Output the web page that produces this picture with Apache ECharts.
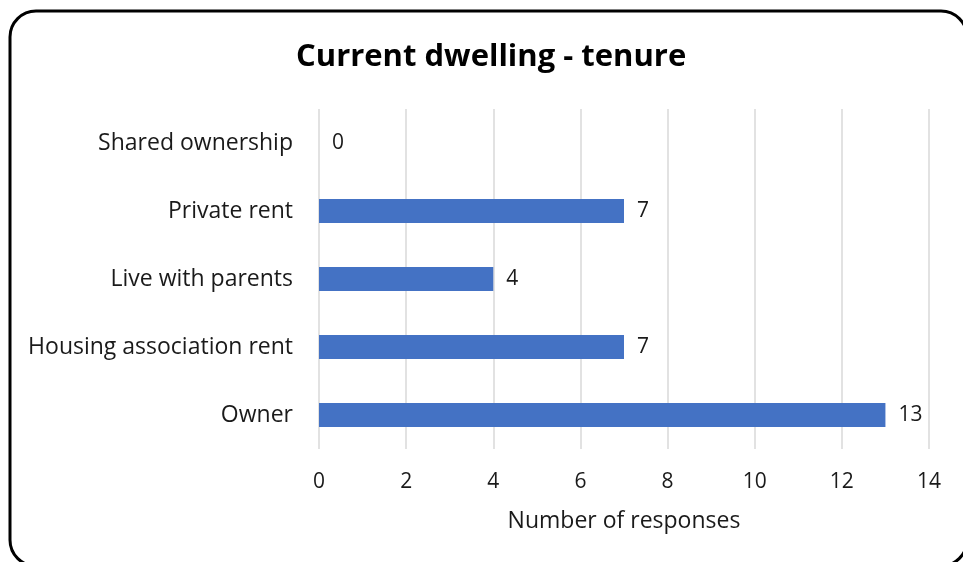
<!DOCTYPE html>
<html>
<head>
<meta charset="utf-8">
<script src="https://cdn.jsdelivr.net/npm/echarts@6/dist/echarts.min.js"></script>
<style>
html,body{margin:0;padding:0;background:#fff;}
#chart{width:963px;height:562px;}
</style>
</head>
<body>
<div id="chart"></div>
<script>
var categories = ['Owner', 'Housing association rent', 'Live with parents', 'Private rent', 'Shared ownership'];
var values = [13, 7, 4, 7, 0];
var titleText = 'Current dwelling - tenure';
var xAxisName = 'Number of responses';

var FONT = 'Open Sans';
var chart = echarts.init(document.getElementById('chart'), null, {renderer: 'canvas'});
chart.setOption({
  animation: false,
  backgroundColor: '#ffffff',
  title: {
    text: titleText,
    left: 291,
    top: 37,
    textStyle: {fontFamily: FONT, fontWeight: 'bold', fontSize: 31, color: '#000000'}
  },
  graphic: [{
    type: 'rect',
    shape: {x: 10, y: 11, width: 957, height: 555, r: 26},
    style: {fill: 'none', stroke: '#000000', lineWidth: 3},
    z: 100
  }],
  grid: {left: 319, right: 34, top: 109, bottom: 113, containLabel: false},
  xAxis: {
    type: 'value',
    min: 0, max: 14, interval: 2,
    name: xAxisName,
    nameLocation: 'middle',
    nameGap: 61,
    nameTextStyle: {fontFamily: FONT, fontSize: 23, color: '#1a1a1a'},
    axisLine: {show: false},
    axisTick: {show: false},
    axisLabel: {fontFamily: FONT, fontSize: 21, color: '#1a1a1a', margin: 23},
    splitLine: {show: true, lineStyle: {color: '#d9d9d9', width: 1.5}}
  },
  yAxis: {
    type: 'category',
    data: categories,
    axisLine: {show: false},
    axisTick: {show: false},
    axisLabel: {fontFamily: FONT, fontSize: 23, color: '#1a1a1a', margin: 26, padding: [4, 0, 0, 0]},
    splitLine: {show: false}
  },
  series: [{
    type: 'bar',
    data: values,
    barWidth: 24,
    itemStyle: {color: '#4472C4'},
    label: {show: true, position: 'right', distance: 13, fontFamily: FONT, fontSize: 21, color: '#1a1a1a', padding: [3, 0, 0, 0]}
  }]
});
</script>
</body>
</html>
